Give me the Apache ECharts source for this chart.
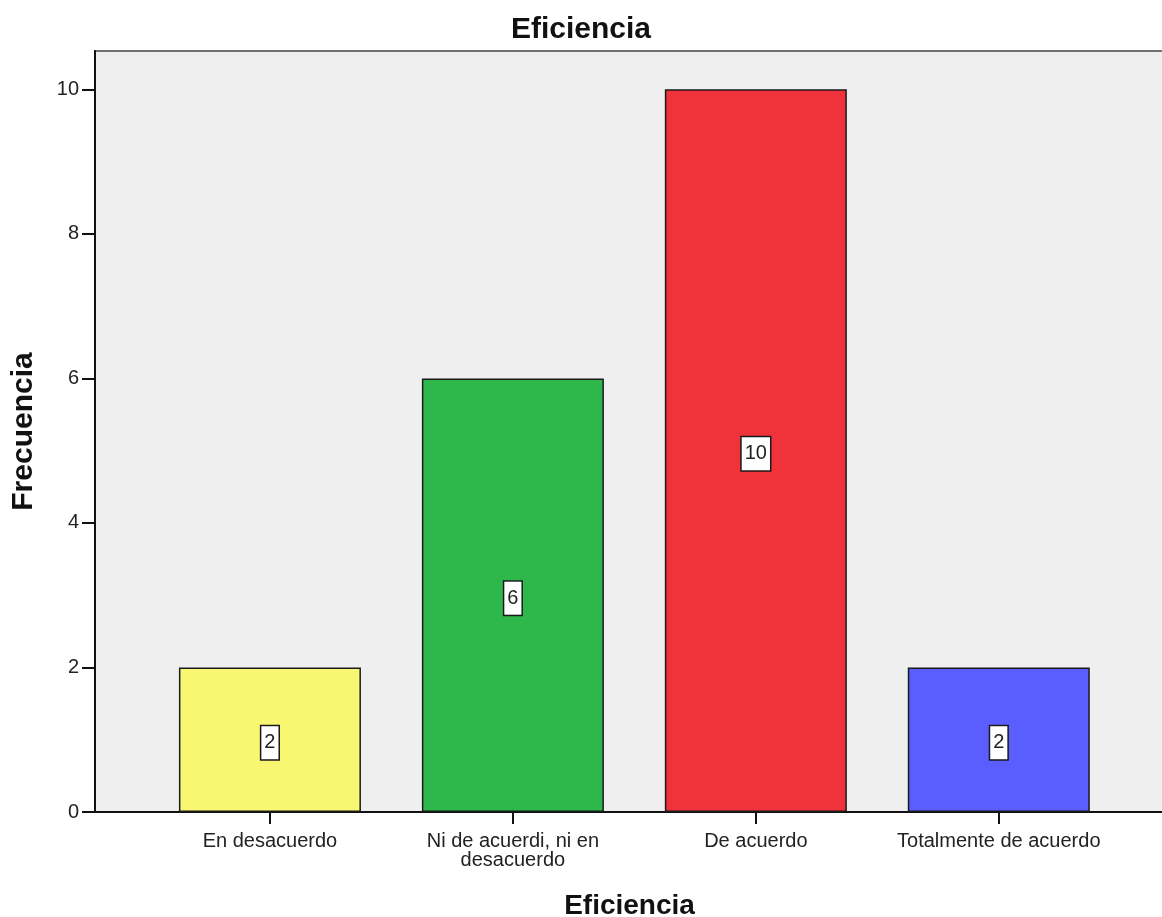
<!DOCTYPE html>
<html>
<head>
<meta charset="utf-8">
<script src="https://cdn.jsdelivr.net/npm/echarts@6/dist/echarts.min.js"></script>
<style>
  html, body { margin: 0; padding: 0; background: #ffffff; }
  #chart { width: 1162px; height: 917px; }
</style>
</head>
<body>
<div id="chart"></div>
<script>
// Frequency of responses for "Eficiencia"
const categories = ['En desacuerdo', 'Ni de acuerdi, ni en\ndesacuerdo', 'De acuerdo', 'Totalmente de acuerdo'];
const frequencies = [2, 6, 10, 2];
const barColors = ['#f9f771', '#2eb84b', '#f0333b', '#5b5eff'];
const yTicks = [0, 2, 4, 6, 8, 10];

const FONT = '"Liberation Sans", Arial, sans-serif';

const chart = echarts.init(document.getElementById('chart'), null, { renderer: 'canvas' });

const positions = categories.map((_, i) => i);

chart.setOption({
  animation: false,
  backgroundColor: '#ffffff',
  title: {
    text: 'Eficiencia',
    left: 'center',
    top: 10,
    textStyle: { fontFamily: FONT, fontSize: 30, fontWeight: 'bold', color: '#111111' }
  },
  grid: {
    left: 95, right: -2, top: 51, bottom: 105,
    outerBoundsMode: 'none',
    containLabel: false,
    show: true,
    backgroundColor: '#efefef',
    borderColor: '#707070',
    borderWidth: 2
  },
  xAxis: {
    type: 'value',
    min: -0.72,
    max: 3.68,
    name: 'Eficiencia',
    nameLocation: 'middle',
    nameGap: 80,
    nameTextStyle: { fontFamily: FONT, fontSize: 28, fontWeight: 'bold', color: '#111111' },
    splitLine: { show: false },
    axisLine: { show: true, onZero: false, lineStyle: { color: '#111111', width: 2 } },
    axisTick: {
      show: true, length: 12, customValues: positions,
      lineStyle: { color: '#111111', width: 2 }
    },
    axisLabel: {
      customValues: positions,
      margin: 20,
      fontFamily: FONT, fontSize: 20, color: '#222222', lineHeight: 19,
      formatter: v => categories[Math.round(v)] || ''
    }
  },
  yAxis: {
    type: 'value',
    min: 0,
    max: 10.53,
    interval: 2,
    name: 'Frecuencia',
    nameLocation: 'middle',
    nameGap: 56,
    nameRotate: 90,
    nameTextStyle: { fontFamily: FONT, fontSize: 30, fontWeight: 'bold', color: '#111111' },
    splitLine: { show: false },
    axisLine: { show: true, onZero: false, lineStyle: { color: '#111111', width: 2 } },
    axisTick: { show: true, length: 13, lineStyle: { color: '#111111', width: 2 } },
    axisLabel: {
      margin: 16, showMaxLabel: false,
      fontFamily: FONT, fontSize: 20, color: '#222222',
      formatter: v => (yTicks.includes(v) ? String(v) : '')
    }
  },
  series: [{
    type: 'bar',
    barWidth: 182,
    data: frequencies.map((f, i) => ({
      value: [positions[i], f],
      itemStyle: { color: barColors[i] }
    })),
    itemStyle: { borderColor: '#1a1a1a', borderWidth: 1.5 },
    label: {
      show: true,
      position: 'inside',
      offset: [0, 3],
      formatter: p => String(p.value[1]),
      fontFamily: FONT, fontSize: 20, color: '#222222',
      backgroundColor: '#ffffff',
      borderColor: '#1a1a1a', borderWidth: 1.5,
      padding: [7, 3, 6, 3]
    }
  }]
});
</script>
</body>
</html>
